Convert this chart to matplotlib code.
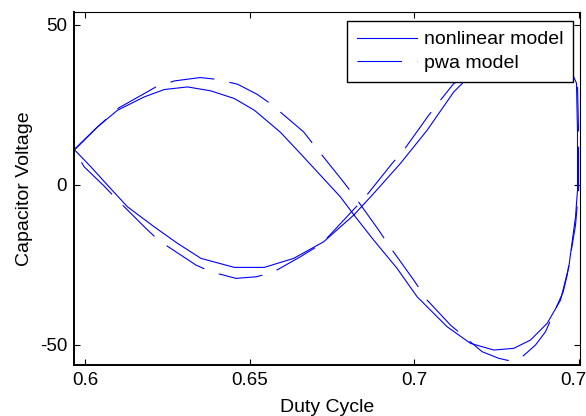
import matplotlib
matplotlib.use('Agg')
import numpy as np
from matplotlib import pyplot as plt
from matplotlib.ticker import FormatStrFormatter

plt.rcParams['font.family'] = ['Liberation Sans', 'DejaVu Sans']
plt.rcParams['lines.scale_dashes'] = False
plt.rcParams['axes.unicode_minus'] = False

# nonlinear model (solid), traced around the loop
nl_duty = [0.59666, 0.60374, 0.60982, 0.61793, 0.62401, 0.63109, 0.63821, 0.64529,
           0.65137, 0.65319, 0.65927, 0.66535, 0.67143, 0.67751, 0.68207, 0.68763,
           0.69474, 0.70082, 0.70994, 0.71702, 0.72410, 0.73018, 0.73526, 0.74033,
           0.74438, 0.74690, 0.74894, 0.74954, 0.74954, 0.74924, 0.74720, 0.74450,
           0.73982, 0.73222, 0.72310, 0.71550, 0.71195, 0.70386, 0.69574, 0.68763,
           0.68155, 0.67243, 0.66331, 0.65441, 0.64529, 0.63517, 0.62806, 0.62097,
           0.61286, 0.60678, 0.60173, 0.59666]
nl_volt = [11.06, 18.13, 23.34, 27.50, 29.81, 30.63, 29.38, 27.00,
           23.34, 21.78, 16.47, 9.81, 3.03, -3.75, -10.00, -17.28,
           -26.13, -35.00, -44.38, -49.56, -51.66, -51.13, -48.53, -43.31,
           -36.03, -25.63, -10.00, -1.66, 16.16, 31.78, 36.50, 41.47,
           43.66, 42.09, 38.03, 32.72, 29.06, 17.09, 6.69, -2.69,
           -9.47, -17.81, -23.00, -25.81, -25.81, -23.00, -18.31, -13.13,
           -6.88, -0.09, 5.63, 11.06]

# pwa model (dashed)
pwa_duty = [0.59666, 0.60365, 0.61003, 0.61742, 0.62149, 0.62705, 0.63495, 0.63973,
            0.64629, 0.65219, 0.65623, 0.66635, 0.66991, 0.67802, 0.68155, 0.68915,
            0.69219, 0.69979, 0.70386, 0.71094, 0.72058, 0.72562, 0.72918, 0.73222,
            0.73678, 0.73982, 0.74520, 0.74641, 0.74894, 0.74985, 0.74985, 0.74954,
            0.74720, 0.74520, 0.74073, 0.73283, 0.72402, 0.71642, 0.71195, 0.70790,
            0.70435, 0.69675, 0.69322, 0.68511, 0.67195, 0.66535, 0.65675, 0.65189,
            0.64581, 0.63821, 0.63365, 0.62249, 0.61845, 0.60933, 0.60578, 0.59970,
            0.59666]
pwa_volt = [10.84, 18.03, 23.97, 28.25, 30.63, 32.50, 33.56, 33.03,
            31.47, 28.34, 25.44, 16.56, 11.88, 1.47, -3.22, -14.16,
            -18.84, -29.78, -36.03, -43.84, -52.19, -54.25, -55.09, -54.25,
            -50.09, -45.94, -33.44, -28.22, -12.59, -1.66, 17.09, 31.16,
            35.50, 41.47, 43.97, 42.41, 38.34, 33.97, 31.69, 26.47,
            21.78, 10.84, 6.69, -3.75, -18.31, -22.50, -27.50, -28.75,
            -29.25, -27.19, -25.09, -17.50, -13.63, -4.25, -0.41, 5.63,
            10.84]

x_ticks = [0.6, 0.65, 0.7, 0.75]
y_ticks = [-50, 0, 50]

fig = plt.figure(figsize=(5.86, 4.16), dpi=100)
ax = fig.add_axes([74/586, 51/416, 506/586, 353/416])

ax.plot(nl_duty, nl_volt, color=(0, 0, 1), lw=0.8, label='nonlinear model')
ax.plot(pwa_duty, pwa_volt, color=(0, 0, 1), lw=0.8, linestyle=(0, (32, 11)),
        label='pwa model')

ax.set_xlim(0.5966, 0.7503)
ax.set_ylim(-56.34, 54.06)
ax.set_xticks(x_ticks)
ax.set_yticks(y_ticks)
ax.xaxis.set_major_formatter(FormatStrFormatter('%g'))
ax.tick_params(direction='in', length=4, width=0.8, labelsize=13.5,
               top=True, right=True, pad=5)
for side in ['left', 'bottom']:
    ax.spines[side].set_linewidth(1.4)
for side in ['top', 'right']:
    ax.spines[side].set_linewidth(0.8)

ax.set_xlabel('Duty Cycle', fontsize=14, labelpad=7)
ax.set_ylabel('Capacitor Voltage', fontsize=14, labelpad=5)

leg = ax.legend(loc='upper right', bbox_to_anchor=(499/506, 344/353),
                borderaxespad=0, fontsize=14, fancybox=False, framealpha=1,
                edgecolor='black', handlelength=3.1, handletextpad=0.35,
                borderpad=0.5, labelspacing=0.3)
leg.get_frame().set_linewidth(1.0)

fig.savefig('out.png', dpi=100)
